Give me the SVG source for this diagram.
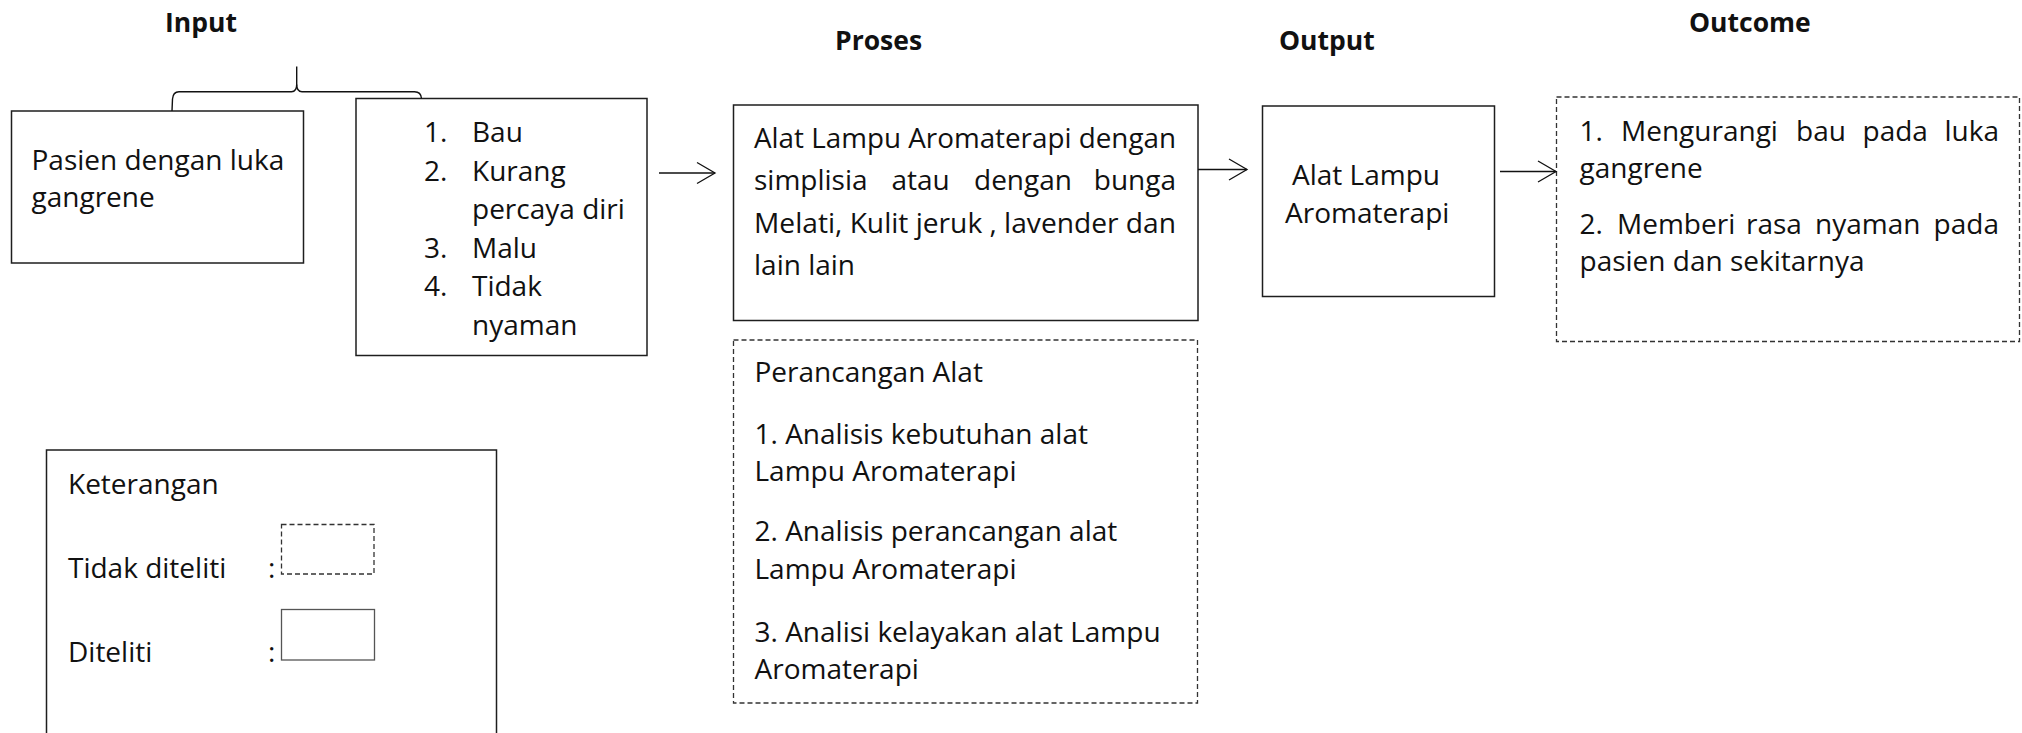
<svg xmlns="http://www.w3.org/2000/svg" width="2022" height="733" viewBox="0 0 2022 733">
<style>
.bg{fill:#ffffff}
.box{fill:none;stroke:#1e1e1e;stroke-width:1.5}
.dash{fill:none;stroke:#333333;stroke-width:1.3;stroke-dasharray:5 3}
.t{font-family:"Open Sans","Liberation Sans",sans-serif;font-size:28px;fill:#111111}
.e{text-anchor:end}
.h{font-family:"Open Sans","Liberation Sans",sans-serif;font-size:26.5px;font-weight:bold;fill:#111111}
.ln{fill:none;stroke:#111111;stroke-width:1.4}
</style>
<defs>
<marker id="open" markerUnits="userSpaceOnUse" markerWidth="22" markerHeight="26" refX="19" refY="12" orient="auto">
<path d="M1,1.5 L19,12 L1,22.5" fill="none" stroke="#111111" stroke-width="1.3"/>
</marker>
</defs>
<rect class="bg" x="0" y="0" width="2022" height="733"/>

<g id="titles">
<text class="h" x="165" y="32">Input</text>
<text class="h" x="835" y="50">Proses</text>
<text class="h" x="1279" y="50">Output</text>
<text class="h" x="1689" y="32">Outcome</text>
</g>

<g id="input-patient">
<rect class="box" x="11.5" y="111" width="292" height="152"/>
<text class="t" x="31.5" y="170">Pasien dengan luka</text>
<text class="t" x="31.5" y="207">gangrene</text>
</g>

<g id="input-problems">
<rect class="box" x="356" y="98.5" width="291" height="257"/>
<text class="t" x="424" y="142">1.</text><text class="t" x="472" y="142">Bau</text>
<text class="t" x="424" y="180.5">2.</text><text class="t" x="472" y="180.5">Kurang</text>
<text class="t" x="472" y="219">percaya diri</text>
<text class="t" x="424" y="257.5">3.</text><text class="t" x="472" y="257.5">Malu</text>
<text class="t" x="424" y="296">4.</text><text class="t" x="472" y="296">Tidak</text>
<text class="t" x="472" y="334.5">nyaman</text>
</g>

<g id="process">
<rect class="box" x="733.5" y="105" width="464.5" height="215.5"/>
<text class="t" x="754" y="147.5" textLength="422" lengthAdjust="spacingAndGlyphs">Alat Lampu Aromaterapi dengan</text>
<text class="t" x="754" y="190">simplisia</text>
<text class="t" x="891.5" y="190">atau</text>
<text class="t" x="974" y="190">dengan</text>
<text class="t e" x="1176" y="190">bunga</text>
<text class="t" x="754" y="232.5" textLength="422" lengthAdjust="spacingAndGlyphs">Melati, Kulit jeruk , lavender dan</text>
<text class="t" x="754" y="275">lain lain</text>
</g>

<g id="design">
<rect class="dash" x="733.5" y="340" width="464" height="363"/>
<text class="t" x="754.5" y="381.5">Perancangan Alat</text>
<text class="t" x="754.5" y="443.5">1. Analisis kebutuhan alat</text>
<text class="t" x="754.5" y="480.5">Lampu Aromaterapi</text>
<text class="t" x="754.5" y="541">2. Analisis perancangan alat</text>
<text class="t" x="754.5" y="578.5">Lampu Aromaterapi</text>
<text class="t" x="754.5" y="641.5">3. Analisi kelayakan alat Lampu</text>
<text class="t" x="754.5" y="678.5">Aromaterapi</text>
</g>

<g id="output">
<rect class="box" x="1262.5" y="106" width="232" height="190.5"/>
<text class="t" x="1292" y="185">Alat Lampu</text>
<text class="t" x="1285" y="222.5">Aromaterapi</text>
</g>

<g id="outcome">
<rect class="dash" x="1556.5" y="97" width="463" height="244.5"/>
<text class="t" x="1579.5" y="141">1.</text>
<text class="t" x="1621" y="141">Mengurangi</text>
<text class="t" x="1796" y="141">bau</text>
<text class="t" x="1862.5" y="141">pada</text>
<text class="t e" x="1999" y="141">luka</text>
<text class="t" x="1579.5" y="177.5">gangrene</text>
<text class="t" x="1579.5" y="234">2.</text>
<text class="t" x="1617" y="234">Memberi</text>
<text class="t" x="1746" y="234">rasa</text>
<text class="t" x="1815" y="234">nyaman</text>
<text class="t e" x="1999" y="234">pada</text>
<text class="t" x="1579.5" y="271">pasien dan sekitarnya</text>
</g>

<g id="legend">
<rect class="box" x="46.5" y="450" width="450" height="300"/>
<text class="t" x="68" y="494">Keterangan</text>
<text class="t" x="68" y="577.5">Tidak diteliti</text>
<text class="t" x="268" y="577.5">:</text>
<rect class="dash" x="281.5" y="524.5" width="92.5" height="49.5"/>
<text class="t" x="68" y="662">Diteliti</text>
<text class="t" x="268" y="662">:</text>
<rect x="281.5" y="609.5" width="93" height="50.5" fill="none" stroke="#555555" stroke-width="1.3"/>
</g>

<g id="connectors">
<path class="ln" d="M296.7,66.5 V84.5 Q296.7,91.7 291.5,91.7 H179 Q173,91.7 172.5,99 L172,111"/>
<path class="ln" d="M296.7,84.5 Q296.7,91.7 302,91.7 H414.5 Q421,91.7 421.5,98.5"/>
<line class="ln" x1="659" y1="173" x2="715" y2="173" marker-end="url(#open)"/>
<line class="ln" x1="1198" y1="169.5" x2="1247" y2="169.5" marker-end="url(#open)"/>
<line class="ln" x1="1500" y1="171.5" x2="1556" y2="171.5" marker-end="url(#open)"/>
</g>
</svg>
